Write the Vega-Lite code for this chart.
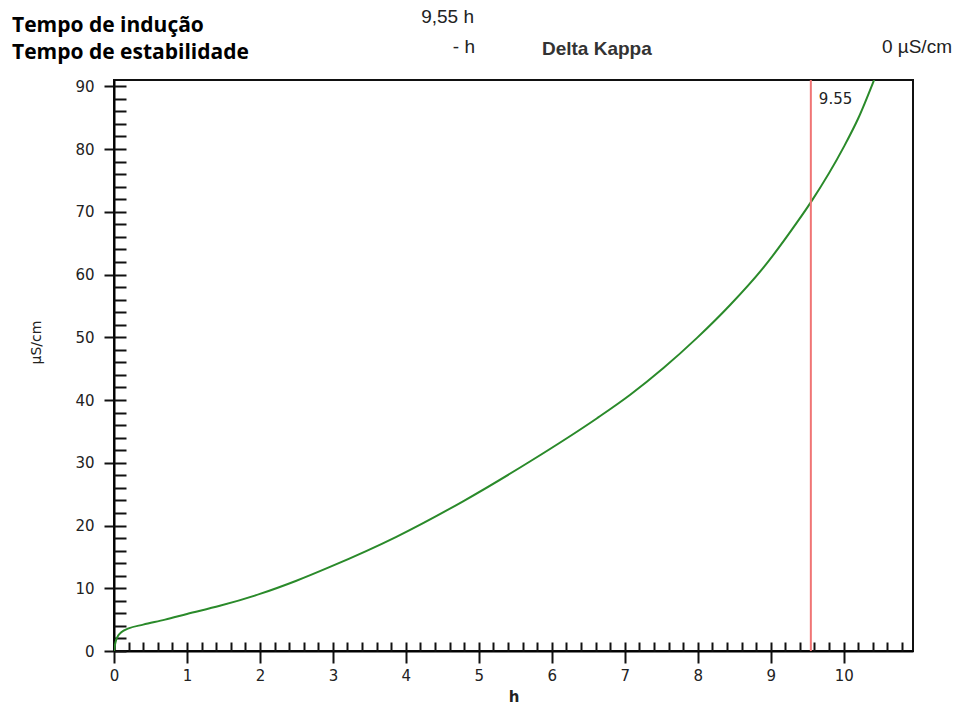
{
  "$schema": "https://vega.github.io/schema/vega-lite/v6.json",
  "width": 799,
  "height": 571,
  "autosize": {"type": "none"},
  "padding": {"left": 114, "top": 80, "right": 46, "bottom": 69},
  "background": "white",
  "config": {
    "view": {"stroke": "#111", "strokeWidth": 2},
    "axis": {"grid": false, "domainColor": "#000", "tickColor": "#111", "labelColor": "#222", "titleColor": "#222"}
  },
  "datasets": {
    "curve": [
      {"h": 0, "k": 0},
      {"h": 0.01, "k": 0.8},
      {"h": 0.03, "k": 1.8},
      {"h": 0.06, "k": 2.5},
      {"h": 0.1, "k": 3.0},
      {"h": 0.2, "k": 3.6},
      {"h": 0.4, "k": 4.2},
      {"h": 0.7, "k": 5.0},
      {"h": 1.0, "k": 5.9},
      {"h": 1.45, "k": 7.2},
      {"h": 2.0, "k": 9.1},
      {"h": 2.5, "k": 11.2},
      {"h": 2.96, "k": 13.4},
      {"h": 3.87, "k": 18.2},
      {"h": 4.79, "k": 23.9},
      {"h": 5.7, "k": 30.2},
      {"h": 6.62, "k": 37.1},
      {"h": 7.07, "k": 40.8},
      {"h": 7.53, "k": 45.1},
      {"h": 7.99, "k": 49.9},
      {"h": 8.44, "k": 55.1},
      {"h": 8.9, "k": 61.1},
      {"h": 9.36, "k": 68.3},
      {"h": 9.56, "k": 71.7},
      {"h": 10.0, "k": 80.3},
      {"h": 10.2, "k": 84.9},
      {"h": 10.42, "k": 91.1},
      {"h": 10.55, "k": 95.0}
    ],
    "marker": [{"h": 9.55, "label": "9.55"}]
  },
  "layer": [
    {
      "data": {"name": "curve"},
      "mark": {"type": "line", "color": "#2a8a2a", "strokeWidth": 2, "clip": true, "interpolate": "monotone"},
      "encoding": {
        "x": {
          "field": "h", "type": "quantitative",
          "scale": {"domain": [0, 10.95], "nice": false, "zero": false},
          "axis": {
            "orient": "bottom", "title": "h", "values": [0,1,2,3,4,5,6,7,8,9,10],
            "tickSize": 12, "tickWidth": 2, "domainWidth": 2, "labelPadding": 5,
            "labelFont": "DejaVu Sans", "labelFontSize": 15, "labelFlush": false,
            "titleFont": "DejaVu Sans", "titleFontSize": 15, "titleFontWeight": "bold", "titlePadding": 6
          }
        },
        "y": {
          "field": "k", "type": "quantitative",
          "scale": {"domain": [0, 91], "nice": false, "zero": false},
          "axis": {
            "orient": "left", "title": "µS/cm", "values": [0,10,20,30,40,50,60,70,80,90],
            "tickSize": 10, "tickWidth": 2, "domainWidth": 2, "labelPadding": 10,
            "labelFont": "DejaVu Sans", "labelFontSize": 15, "labelFlush": false,
            "titleFont": "DejaVu Sans", "titleFontSize": 14, "titleFontWeight": "normal", "titlePadding": 31, "titleY": 262
          }
        }
      }
    },
    {
      "data": {"name": "marker"},
      "mark": {"type": "rule", "color": "#f07575", "strokeWidth": 2},
      "encoding": {
        "x": {
          "field": "h", "type": "quantitative",
          "scale": {"domain": [0, 10.95], "nice": false, "zero": false},
          "axis": {
            "orient": "bottom", "title": null, "labels": false, "domain": false,
            "values": [0,0.2,0.4,0.6,0.8,1,1.2,1.4,1.6,1.8,2,2.2,2.4,2.6,2.8,3,3.2,3.4,3.6,3.8,4,4.2,4.4,4.6,4.8,5,5.2,5.4,5.6,5.8,6,6.2,6.4,6.6,6.8,7,7.2,7.4,7.6,7.8,8,8.2,8.4,8.6,8.8,9,9.2,9.4,9.6,9.8,10,10.2,10.4,10.6,10.8],
            "tickSize": -9, "tickWidth": 2
          }
        },
        "y": {
          "datum": 0, "type": "quantitative",
          "scale": {"domain": [0, 91], "nice": false, "zero": false},
          "axis": {
            "orient": "left", "title": null, "labels": false, "domain": false,
            "values": [0,2,4,6,8,10,12,14,16,18,20,22,24,26,28,30,32,34,36,38,40,42,44,46,48,50,52,54,56,58,60,62,64,66,68,70,72,74,76,78,80,82,84,86,88,90],
            "tickSize": -12, "tickWidth": 2
          }
        },
        "y2": {"datum": 91}
      }
    },
    {
      "data": {"name": "marker"},
      "mark": {"type": "text", "align": "left", "baseline": "alphabetic", "dx": 8, "font": "DejaVu Sans", "fontSize": 15, "color": "#222"},
      "encoding": {
        "x": {"field": "h", "type": "quantitative", "scale": {"domain": [0, 10.95], "nice": false, "zero": false}, "axis": null},
        "y": {"datum": 87.2, "type": "quantitative", "scale": {"domain": [0, 91], "nice": false, "zero": false}, "axis": null},
        "text": {"field": "label"}
      }
    },
    {
      "data": {"values": [{"t": "Tempo de indução"}]},
      "mark": {"type": "text", "align": "left", "baseline": "alphabetic", "font": "Open Sans", "fontWeight": "bold", "fontSize": 21, "color": "#000", "clip": false},
      "encoding": {
        "x": {"datum": -1.398, "type": "quantitative", "scale": {"domain": [0, 10.95], "nice": false, "zero": false}, "axis": null},
        "y": {"datum": 98.65, "type": "quantitative", "scale": {"domain": [0, 91], "nice": false, "zero": false}, "axis": null},
        "text": {"field": "t"}
      }
    },
    {
      "data": {"values": [{"t": "Tempo de estabilidade"}]},
      "mark": {"type": "text", "align": "left", "baseline": "alphabetic", "font": "Open Sans", "fontWeight": "bold", "fontSize": 21, "color": "#000", "clip": false},
      "encoding": {
        "x": {"datum": -1.398, "type": "quantitative", "scale": {"domain": [0, 10.95], "nice": false, "zero": false}, "axis": null},
        "y": {"datum": 94.35, "type": "quantitative", "scale": {"domain": [0, 91], "nice": false, "zero": false}, "axis": null},
        "text": {"field": "t"}
      }
    },
    {
      "data": {"values": [{"t": "9,55 h"}]},
      "mark": {"type": "text", "align": "right", "baseline": "alphabetic", "font": "Liberation Sans", "fontSize": 19, "color": "#222", "clip": false},
      "encoding": {
        "x": {"datum": 4.934, "type": "quantitative", "scale": {"domain": [0, 10.95], "nice": false, "zero": false}, "axis": null},
        "y": {"datum": 100.08, "type": "quantitative", "scale": {"domain": [0, 91], "nice": false, "zero": false}, "axis": null},
        "text": {"field": "t"}
      }
    },
    {
      "data": {"values": [{"t": "- h"}]},
      "mark": {"type": "text", "align": "right", "baseline": "alphabetic", "font": "Liberation Sans", "fontSize": 19, "color": "#222", "clip": false},
      "encoding": {
        "x": {"datum": 4.947, "type": "quantitative", "scale": {"domain": [0, 10.95], "nice": false, "zero": false}, "axis": null},
        "y": {"datum": 95.3, "type": "quantitative", "scale": {"domain": [0, 91], "nice": false, "zero": false}, "axis": null},
        "text": {"field": "t"}
      }
    },
    {
      "data": {"values": [{"t": "Delta Kappa"}]},
      "mark": {"type": "text", "align": "left", "baseline": "alphabetic", "font": "Liberation Sans", "fontWeight": "bold", "fontSize": 19, "color": "#333", "clip": false},
      "encoding": {
        "x": {"datum": 5.865, "type": "quantitative", "scale": {"domain": [0, 10.95], "nice": false, "zero": false}, "axis": null},
        "y": {"datum": 95.0, "type": "quantitative", "scale": {"domain": [0, 91], "nice": false, "zero": false}, "axis": null},
        "text": {"field": "t"}
      }
    },
    {
      "data": {"values": [{"t": "0 µS/cm"}]},
      "mark": {"type": "text", "align": "right", "baseline": "alphabetic", "font": "Liberation Sans", "fontSize": 19, "color": "#222", "clip": false},
      "encoding": {
        "x": {"datum": 11.484, "type": "quantitative", "scale": {"domain": [0, 10.95], "nice": false, "zero": false}, "axis": null},
        "y": {"datum": 95.3, "type": "quantitative", "scale": {"domain": [0, 91], "nice": false, "zero": false}, "axis": null},
        "text": {"field": "t"}
      }
    }
  ],
  "resolve": {"axis": {"x": "independent", "y": "independent"}}
}
